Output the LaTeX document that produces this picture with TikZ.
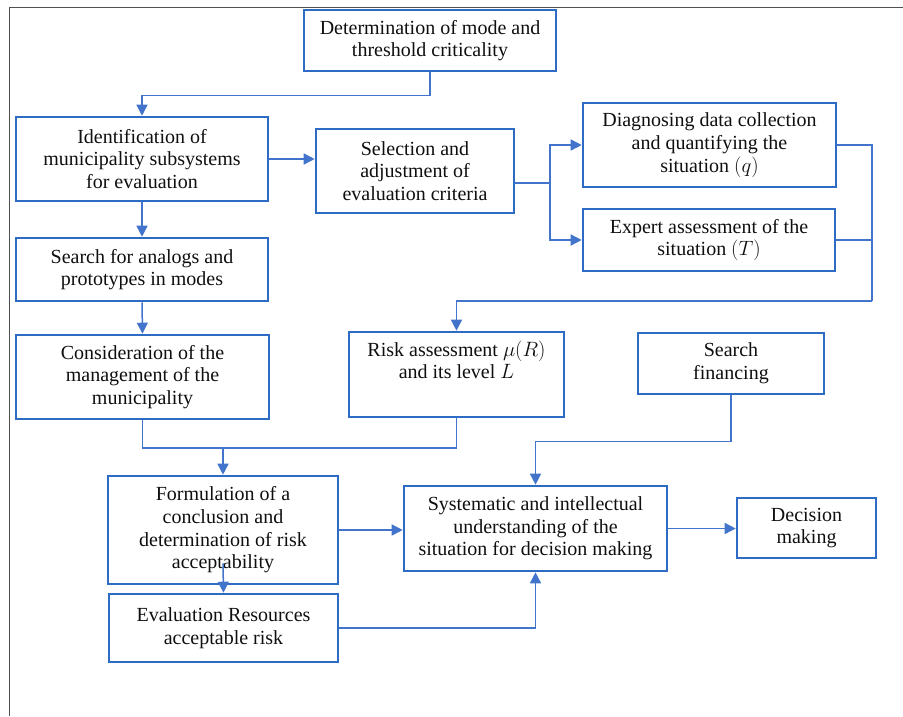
\documentclass[tikz,border=0pt]{standalone}
\usepackage{fontspec}
\setmainfont{Liberation Serif}
\usetikzlibrary{arrows.meta}
\definecolor{boxblue}{RGB}{46,107,196}
\definecolor{linkblue}{RGB}{66,116,204}
\definecolor{framegray}{RGB}{80,80,80}
\definecolor{txt}{RGB}{15,15,15}
\tikzset{
  fbox/.style={draw=boxblue, line width=2.6pt, rectangle, inner sep=0pt, align=center,
    text=txt, font=\fontsize{20}{22.7}\selectfont},
  link/.style={draw=linkblue, line width=1.5pt},
  arr/.style={link, -{Triangle[length=11pt,width=11pt]}},
  frameline/.style={draw=framegray, line width=1.4pt}
}
\begin{document}
\begin{tikzpicture}[x=1pt,y=-1pt]
\useasboundingbox (0,0) rectangle (903,716);
\draw[frameline] (9.5,716) -- (9.5,7.5) -- (903,7.5);

\node[fbox, minimum width=252pt, minimum height=61pt] (top) at (430,40.5) {Determination of mode and\\threshold criticality};
\node[fbox, minimum width=252pt, minimum height=84pt] (ident) at (142,159) {Identification of\\municipality subsystems\\for evaluation};
\node[fbox, minimum width=198pt, minimum height=84pt] (sel) at (415,171) {Selection and\\adjustment of\\evaluation criteria};
\node[fbox, minimum width=253pt, minimum height=84pt] (diag) at (709.5,145) {Diagnosing data collection\\and quantifying the\\situation $(q)$};
\node[fbox, minimum width=252pt, minimum height=62pt] (expert) at (709,240) {Expert assessment of the\\situation $(T)$};
\node[fbox, minimum width=252pt, minimum height=63pt] (search) at (142,269.5) {Search for analogs and\\prototypes in modes};
\node[fbox, minimum width=253pt, minimum height=84pt] (consid) at (142.5,377) {Consideration of the\\management of the\\municipality};
\node[fbox, minimum width=215pt, minimum height=85pt] (risk) at (456.5,374.5) {Risk assessment $\mu(R)$\\and its level $L$\\\strut};
\node[fbox, minimum width=186pt, minimum height=61pt] (fin) at (731,363.5) {Search\\financing};
\node[fbox, minimum width=230pt, minimum height=108pt] (form) at (223,530) {Formulation of a\\conclusion and\\determination of risk\\acceptability};
\node[fbox, minimum width=229pt, minimum height=68pt] (eval) at (223.5,628) {Evaluation Resources\\acceptable risk};
\node[fbox, minimum width=263pt, minimum height=85pt] (sys) at (535.5,528.5) {Systematic and intellectual\\understanding of the\\situation for decision making};
\node[fbox, minimum width=139pt, minimum height=60pt] (dec) at (806.5,528) {Decision\\making};

% connectors
\draw[arr] (top.south) -- ++(0,23) -| (ident.north);
\draw[arr] (ident.east) -- (sel.west |- ident.east);
\draw[arr] (ident.south) -- (search.north);
\draw[arr] (search.south) -- (consid.north);

\coordinate (j3) at (550,183);
\draw[link] ([yshift=-12pt]sel.east) -- (j3);
\draw[arr] (j3) |- (diag.west);
\draw[arr] (j3) |- (expert.west);

\coordinate (j4) at (872,301);
\draw[link] (diag.east) -| (j4);
\draw[link] (expert.east) -- (expert.east -| j4);
\draw[arr] (j4) -| (risk.north);

\coordinate (j2) at (223,448);
\draw[link] (consid.south) |- (j2) -| (risk.south);
\draw[arr] (j2) -- (form.north);

\draw[arr] ([yshift=22pt]form.south) -- (eval.north);
\draw[arr] (form.east) -- (sys.west |- form.east);
\draw[arr] (eval.east) -| (sys.south);
\draw[arr] (fin.south) -- ++(0,46) -| (sys.north);
\draw[arr] (sys.east) -- (dec.west |- sys.east);
\end{tikzpicture}
\end{document}
